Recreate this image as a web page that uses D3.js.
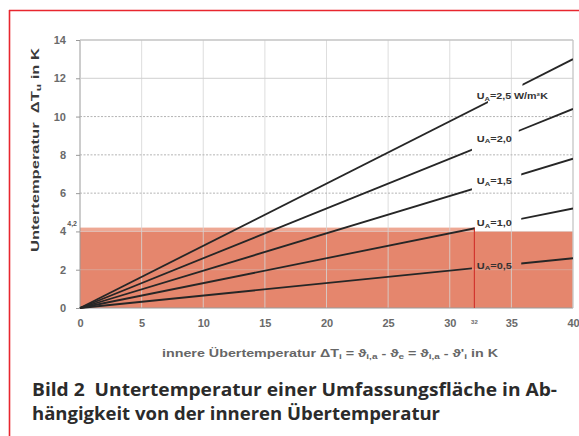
<!DOCTYPE html>
<html><head><meta charset="utf-8">
<script src="https://cdn.jsdelivr.net/npm/d3@7"></script>
<style>
html,body{margin:0;padding:0;background:#fff;}
svg{display:block;}
</style></head>
<body>
<svg id="c" width="579" height="436" font-family="Arial, 'Liberation Sans', sans-serif"></svg>
<script>
// ---- data ----
const xTicks = [0,5,10,15,20,25,30,35,40];
const yTicks = [0,2,4,6,8,10,12,14];
const seriesLabels = ["2,5 W/m²K","2,0","1,5","1,0","0,5"];
const valueAt40 = [13.0, 10.4, 7.8, 5.2, 2.6];
const gapStart = [33.1, 31.8, 31.8, 32.0, 31.8];
const gapEnd   = [35.9, 35.6, 35.8, 35.8, 35.8];
const limitValue = 4.2;      // zulässige Untertemperatur
const limitX = 32;           // Schnittpunkt
const bandValue = 4.0;

const svg = d3.select("#c");
const x = d3.scaleLinear().domain([0,40]).range([80,573]);
const y = d3.scaleLinear().domain([0,14]).range([308,40]);

// red frame
svg.append("line").attr("x1",9).attr("x2",579).attr("y1",10.5).attr("y2",10.5).attr("stroke","#e8262e").attr("stroke-width",1.6);
svg.append("line").attr("x1",9.5).attr("x2",9.5).attr("y1",10).attr("y2",436).attr("stroke","#e8262e").attr("stroke-width",1.6);

// shaded region
svg.append("rect").attr("x",x(0)).attr("width",x(40)-x(0))
  .attr("y",y(bandValue)).attr("height",y(0)-y(bandValue)).attr("fill","#e5866d");
svg.append("rect").attr("x",x(0)).attr("width",x(limitX)-x(0))
  .attr("y",y(limitValue)).attr("height",y(bandValue)-y(limitValue)).attr("fill","#eea894");

// grid
const g = svg.append("g");
xTicks.forEach(t=>{
  g.append("line").attr("x1",x(t)).attr("x2",x(t)).attr("y1",y(14)).attr("y2",y(0))
   .attr("stroke", t===0? "#9a9a9a" : "#d6d6d6").attr("stroke-width",1)
   .attr("opacity", t===0 ? 1 : 0.8);
});
yTicks.forEach(t=>{
  const dotted = (t>=6 && t<=10);
  g.append("line").attr("x1",x(0)).attr("x2",x(40)).attr("y1",y(t)).attr("y2",y(t))
   .attr("stroke", t===0? "#9a9a9a" : (dotted? "#b4b4b4" : "#cfcfcf"))
   .attr("stroke-width", 1)
   .attr("stroke-dasharray", dotted? "2,1.5" : null)
   .attr("opacity", t<=4 && t>0 ? 0.4 : 1);
});
// frame top/right
g.append("line").attr("x1",x(0)).attr("x2",x(40)).attr("y1",y(14)).attr("y2",y(14)).attr("stroke","#bdbdbd");
g.append("line").attr("x1",x(40)).attr("x2",x(40)).attr("y1",y(14)).attr("y2",y(0)).attr("stroke","#c4c4c4");

// axes with d3
const xAxis = d3.axisBottom(x).tickValues(xTicks).tickSize(0).tickPadding(11).tickFormat(d3.format("d"));
const ax = svg.append("g").attr("transform",`translate(0,${y(0)})`).call(xAxis);
ax.select(".domain").remove();
ax.selectAll("text").attr("font-size",11).attr("font-weight","bold").attr("fill","#6a6a6a").attr("font-family","Arial");

const yAxis = d3.axisLeft(y).tickValues(yTicks).tickSize(4).tickPadding(10).tickFormat(d3.format("d"));
const ay = svg.append("g").attr("transform",`translate(${x(0)},0)`).call(yAxis);
ay.select(".domain").remove();
ay.selectAll("line").attr("stroke","#999");
ay.selectAll("text").attr("font-size",11).attr("font-weight","bold").attr("fill","#6a6a6a").attr("font-family","Arial");

// "4,2" marker
svg.append("text").attr("x",x(0)-3).attr("y",y(limitValue)-2).attr("text-anchor","end")
  .attr("font-size",7).attr("font-weight","bold").attr("fill","#555").text("4,2");

// red vertical line
svg.append("line").attr("x1",x(limitX)).attr("x2",x(limitX)).attr("y1",y(0)).attr("y2",y(limitValue))
  .attr("stroke","#d2362f").attr("stroke-width",1.2);
svg.append("text").attr("x",x(limitX)).attr("y",y(0)+16).attr("text-anchor","middle")
  .attr("font-size",6).attr("font-weight","bold").attr("fill","#666").text("32");

// series lines with gaps
const defs = svg.append("defs");
valueAt40.forEach((v,i)=>{
  const cp = defs.append("clipPath").attr("id","cp"+i);
  cp.append("rect").attr("x",x(0)-3).attr("y",0).attr("width",x(gapStart[i])-x(0)+3).attr("height",436);
  cp.append("rect").attr("x",x(gapEnd[i])).attr("y",0).attr("width",x(40)-x(gapEnd[i])).attr("height",436);
  svg.append("path")
    .attr("d", d3.line().x(d=>x(d[0])).y(d=>y(d[1]))([[0,0],[40,v]]))
    .attr("stroke","#262626").attr("stroke-width",1.8).attr("fill","none")
    .attr("clip-path",`url(#cp${i})`);
  const lt = svg.append("text").attr("x",x(32.2)).attr("y",y(v*34/40)+3)
    .attr("font-size",8.5).attr("font-weight","bold").attr("fill","#333");
  lt.append("tspan").text("U");
  lt.append("tspan").attr("font-size",6).attr("dy",1.5).text("A");
  lt.append("tspan").attr("dy",-1.5).text("=" + seriesLabels[i]);
  if (i===0) lt.attr("textLength",71).attr("lengthAdjust","spacingAndGlyphs");
  else lt.attr("textLength",35).attr("lengthAdjust","spacingAndGlyphs");
});

// axis titles
const yt = svg.append("text").attr("transform","translate(39,150) rotate(-90)").attr("text-anchor","middle")
  .attr("font-size",11).attr("font-weight","bold").attr("fill","#3a3a3a")
  .attr("textLength",204).attr("lengthAdjust","spacingAndGlyphs").style("white-space","pre");
yt.append("tspan").text("Untertemperatur  ΔT");
yt.append("tspan").attr("font-size",8).attr("dy",2).text("u");
yt.append("tspan").attr("dy",-2).text(" in K");

const xt = svg.append("text").attr("x",330).attr("y",357).attr("text-anchor","middle")
  .attr("font-size",10).attr("font-weight","bold").attr("fill","#666")
  .attr("textLength",336).attr("lengthAdjust","spacingAndGlyphs");
xt.append("tspan").text("innere Übertemperatur ΔT");
xt.append("tspan").attr("font-size",7).attr("dy",2).text("i");
xt.append("tspan").attr("dy",-2).text(" = ϑ");
xt.append("tspan").attr("font-size",7).attr("dy",2).text("i,a");
xt.append("tspan").attr("dy",-2).text(" - ϑ");
xt.append("tspan").attr("font-size",7).attr("dy",2).text("e");
xt.append("tspan").attr("dy",-2).text(" = ϑ");
xt.append("tspan").attr("font-size",7).attr("dy",2).text("i,a");
xt.append("tspan").attr("dy",-2).text(" - ϑ'");
xt.append("tspan").attr("font-size",7).attr("dy",2).text("i");
xt.append("tspan").attr("dy",-2).text(" in K");

// caption
const cap = ["Bild 2  Untertemperatur einer Umfassungsfläche in Ab-","hängigkeit von der inneren Übertemperatur"];
svg.append("text").attr("x",32).attr("y",396).attr("font-family","'Open Sans', sans-serif")
  .attr("font-size",17.5).attr("font-weight","bold").attr("fill","#2b2b2b").style("white-space","pre")
  .attr("textLength",525).attr("lengthAdjust","spacingAndGlyphs").text(cap[0]);
svg.append("text").attr("x",32).attr("y",420).attr("font-family","'Open Sans', sans-serif")
  .attr("font-size",17.5).attr("font-weight","bold").attr("fill","#2b2b2b")
  .attr("textLength",408).attr("lengthAdjust","spacingAndGlyphs").text(cap[1]);
</script>
</body></html>
